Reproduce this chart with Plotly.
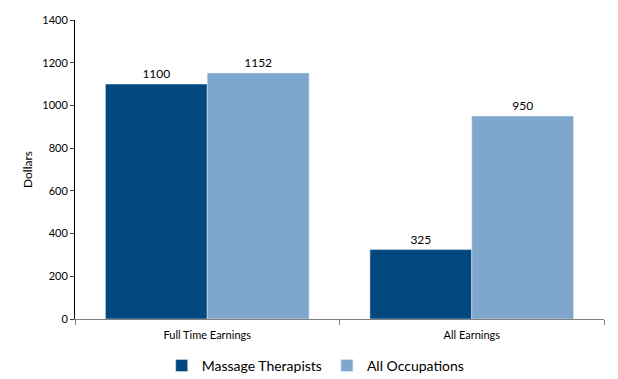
import plotly.graph_objects as go

categories = ["Full Time Earnings", "All Earnings"]
massage = [1100, 325]
all_occ = [1152, 950]
series_names = ["Massage Therapists", "All Occupations"]
colors = ["#00487D", "#7FA6CD"]

fig = go.Figure()
for name, vals, col in zip(series_names, [massage, all_occ], colors):
    fig.add_trace(go.Bar(
        x=categories, y=vals, name=name, marker_color=col,
        text=[str(v) for v in vals], textposition="outside",
        textfont=dict(size=12, color="#000000"), cliponaxis=False,
    ))

# page body has an 8px default margin, so the figure is 8px smaller and offsets are shifted
fig.update_layout(
    width=610, height=371,
    margin=dict(l=67, r=14, t=12, b=60, autoexpand=False),
    paper_bgcolor="white", plot_bgcolor="white",
    font=dict(family="Lato, Open Sans, sans-serif", size=11, color="#000000"),
    barmode="group", bargap=0.23, bargroupgap=0,
    showlegend=True,
    legend=dict(orientation="h", x=0.455, xanchor="center", y=-0.157, yanchor="middle",
                font=dict(size=14), itemwidth=30, traceorder="normal",
                bgcolor="rgba(0,0,0,0)"),
    xaxis=dict(showline=True, linecolor="#808080", linewidth=1,
               ticks="outside", tickson="boundaries", ticklen=5, tickcolor="#808080",
               tickfont=dict(size=11), ticklabelstandoff=6),
    yaxis=dict(range=[0, 1400], dtick=200, showgrid=False, showline=True,
               linecolor="#000000", linewidth=1, ticks="outside", ticklen=4,
               zeroline=False,
               title=dict(text="Dollars", font=dict(size=12), standoff=7),
               tickfont=dict(size=11)),
)

fig.write_html("out.html")
